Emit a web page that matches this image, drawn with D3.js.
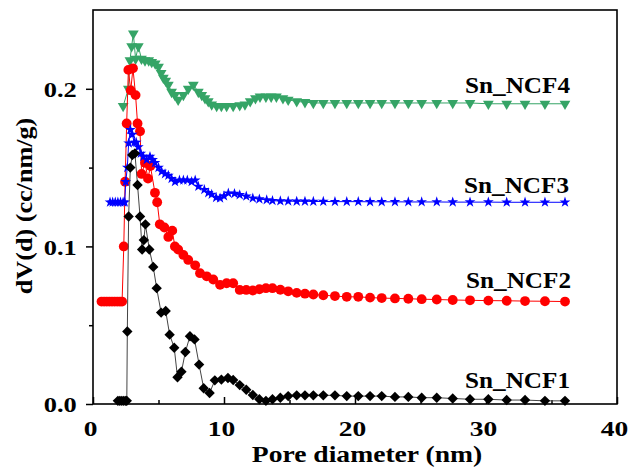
<!DOCTYPE html>
<html>
<head>
<meta charset="utf-8">
<script src="https://cdn.jsdelivr.net/npm/d3@7"></script>
<style>
	body { margin: 0; background: #fff; }
	text { font-family: "Liberation Serif", "Times New Roman", serif; font-weight: bold; fill: #000; }
</style>
</head>
<body>
<svg id="chart" width="633" height="473"></svg>
<script>

// pore diameters shared by the long tail of every curve (nm)
var tailD = [14.9, 15.55, 16.18, 16.82, 17.58, 18.47, 19.37, 20.25, 21.15, 22.04, 23.05,
	24.07, 25.09, 26.24, 27.46, 28.78, 30.18, 31.58, 32.98, 34.5, 36.03];

// [diameter, dV(d)] below 14.9 nm, then dV(d) on tailD
var ncf1Head = [[1.9,0.002],[2.05,0.002],[2.2,0.002],[2.35,0.002],[2.5,0.002],[2.58,0.002],
	[2.62,0.046],[2.72,0.119],[2.85,0.150],[3.0,0.158],[3.2,0.159],[3.4,0.139],[3.59,0.119],
	[3.75,0.098],[3.88,0.104],[4.0,0.114],[4.3,0.098],[4.6,0.087],[4.86,0.0735],[5.2,0.058],
	[5.55,0.059],[5.85,0.044],[6.2,0.0357],[6.45,0.017],[6.75,0.0205],[7.05,0.033],[7.4,0.043],
	[7.75,0.041],[8.1,0.025],[8.45,0.010],[8.9,0.007],[9.3,0.015],[9.8,0.0155],[10.3,0.0165],
	[10.7,0.0152],[11.2,0.012],[11.7,0.009],[12.2,0.0057],[12.7,0.003],[13.2,0.002],[13.7,0.003],
	[14.3,0.004]];
var ncf1Tail = [0.005, 0.0055, 0.0055, 0.0055, 0.0055, 0.0055, 0.005, 0.005, 0.005, 0.005, 0.0045,
	0.0045, 0.004, 0.004, 0.0035, 0.003, 0.003, 0.0025, 0.0025, 0.002, 0.002];

var ncf2Head = [[0.65,0.065],[0.85,0.065],[1.05,0.065],[1.25,0.065],[1.45,0.065],[1.65,0.065],
	[1.85,0.065],[2.05,0.065],[2.22,0.065],[2.35,0.100],[2.45,0.141],[2.57,0.178],[2.7,0.212],
	[2.88,0.199],[3.05,0.213],[3.25,0.196],[3.4,0.178],[3.59,0.173],[3.71,0.146],[3.97,0.153],
	[4.2,0.143],[4.38,0.151],[4.73,0.134],[4.9,0.128],[5.1,0.114],[5.45,0.112],[5.75,0.106],
	[6.05,0.110],[6.25,0.100],[6.5,0.098],[6.9,0.0946],[7.27,0.0914],[7.8,0.088],[8.17,0.083],
	[8.68,0.081],[9.18,0.079],[9.7,0.0756],[10.2,0.0766],[10.7,0.0766],[11.2,0.0724],[11.7,0.0724],
	[12.2,0.072],[12.7,0.0728],[13.2,0.0735],[13.7,0.0735],[14.3,0.0725]];
var ncf2Tail = [0.0715, 0.0705, 0.070, 0.0695, 0.069, 0.0685, 0.068, 0.068, 0.0675, 0.0672, 0.067,
	0.0668, 0.0665, 0.0663, 0.066, 0.0658, 0.0656, 0.0655, 0.0653, 0.0652, 0.065];

var ncf3Head = [[1.3,0.128],[1.5,0.128],[1.7,0.128],[1.9,0.128],[2.1,0.128],[2.3,0.128],[2.42,0.128],
	[2.5,0.141],[2.62,0.150],[2.72,0.1655],[2.85,0.174],[3.0,0.171],[3.15,0.166],[3.3,0.166],
	[3.46,0.163],[3.65,0.159],[3.84,0.157],[4.1,0.155],[4.35,0.157],[4.55,0.155],[4.73,0.153],
	[5.0,0.150],[5.24,0.1475],[5.5,0.146],[5.75,0.145],[6.0,0.143],[6.26,0.141],[6.6,0.142],
	[6.9,0.142],[7.2,0.142],[7.53,0.141],[7.8,0.142],[8.04,0.138],[8.5,0.136],[8.8,0.134],
	[9.06,0.133],[9.4,0.131],[9.7,0.1306],[10.0,0.132],[10.33,0.1338],[10.8,0.1335],[11.2,0.1327],
	[11.7,0.1318],[12.2,0.1306],[12.7,0.130],[13.26,0.1295],[13.7,0.129],[14.3,0.1288]];
var ncf3Tail = [0.1287, 0.1286, 0.1286, 0.1285, 0.1285, 0.1284, 0.1284, 0.1284, 0.1283, 0.1283, 0.1283,
	0.1282, 0.1282, 0.1282, 0.1281, 0.1281, 0.1281, 0.128, 0.128, 0.128, 0.128];

var ncf4Head = [[2.3,0.189],[2.7,0.200],[2.82,0.218],[2.95,0.227],[3.08,0.235],[3.25,0.219],
	[3.46,0.227],[3.7,0.219],[3.97,0.218],[4.25,0.218],[4.48,0.217],[4.75,0.216],[5.0,0.214],
	[5.2,0.210],[5.37,0.207],[5.55,0.205],[5.75,0.2025],[6.0,0.198],[6.25,0.196],[6.5,0.193],
	[6.9,0.196],[7.27,0.200],[7.66,0.2025],[8.04,0.198],[8.3,0.196],[8.55,0.194],[8.8,0.192],
	[9.06,0.190],[9.44,0.189],[9.8,0.189],[10.2,0.189],[10.7,0.189],[11.2,0.1895],[11.6,0.190],
	[12.0,0.192],[12.4,0.194],[12.75,0.195],[13.2,0.195],[13.6,0.195],[14.0,0.195],[14.5,0.194]];
var ncf4Tail = [0.193, 0.192, 0.1915, 0.191, 0.191, 0.191, 0.191, 0.191, 0.191, 0.191, 0.191,
	0.191, 0.191, 0.191, 0.191, 0.191, 0.1905, 0.1905, 0.1905, 0.1905, 0.1905];

var seriesNames = ["Sn_NCF1", "Sn_NCF2", "Sn_NCF3", "Sn_NCF4"];

var xMajor = [0, 10, 20, 30, 40];
var xMinor = [5, 15, 25, 35];
var yMajor = [0, 0.1, 0.2];
var yMinor = [0.05, 0.15];

var series = [
	{ name: seriesNames[3], head: ncf4Head, tail: ncf4Tail, color: "#35a466", line: "#35a466", symbol: d3.symbolTriangle, size: 50, rot: 180 },
	{ name: seriesNames[1], head: ncf2Head, tail: ncf2Tail, color: "#ff0000", line: "#ff0000", symbol: d3.symbolCircle, size: 76, rot: 0 },
	{ name: seriesNames[2], head: ncf3Head, tail: ncf3Tail, color: "#0000ff", line: "#0000ff", symbol: d3.symbolStar, size: 36, rot: 0 },
	{ name: seriesNames[0], head: ncf1Head, tail: ncf1Tail, color: "#000000", line: "#444444", symbol: d3.symbolSquare, size: 54, rot: 45 },
];

series.forEach( s => s.pts = s.head.concat( tailD.map( (d, i) => [d, s.tail[i]] ) ) );

var svg = d3.select("#chart");

var x = d3.scaleLinear().domain([0, 40]).range([93, 617]);
var y = d3.scaleLinear().domain([0, 0.25]).range([404, 10]);

// x axis: ticks point inward
var xax = svg.append("g")
	.attr("transform", `translate(0,${y(0)})`)
	.call(d3.axisBottom(x).tickValues(xMajor).tickSize(-7).tickPadding(16).tickFormat(d3.format("d")));
xax.select(".domain").remove();
xax.selectAll("line").attr("stroke-width", 1.5);
xax.selectAll("text")
	.attr("font-size", 22)
	.attr("transform", "translate(-3,0) scale(1.25,1)");

var xmin = svg.append("g")
	.attr("transform", `translate(0,${y(0)})`)
	.call(d3.axisBottom(x).tickValues(xMinor).tickSize(-4).tickFormat(""));
xmin.select(".domain").remove();
xmin.selectAll("line").attr("stroke-width", 1.5);

// y axis: ticks point outward
var yax = svg.append("g")
	.attr("transform", `translate(${x(0)},0)`)
	.call(d3.axisLeft(y).tickValues(yMajor).tickSize(7).tickPadding(6.5).tickFormat(d3.format(".1f")));
yax.select(".domain").remove();
yax.selectAll("line").attr("stroke-width", 1.5);
yax.selectAll("text")
	.attr("font-size", 22)
	.attr("dy", "0.36em")
	.attr("transform", "scale(1.2,1)");

var ymin = svg.append("g")
	.attr("transform", `translate(${x(0)},0)`)
	.call(d3.axisLeft(y).tickValues(yMinor).tickSize(4).tickFormat(""));
ymin.select(".domain").remove();
ymin.selectAll("line").attr("stroke-width", 1.5);

// frame
svg.append("rect")
	.attr("x", x(0))
	.attr("y", y(0.25))
	.attr("width", x(40) - x(0))
	.attr("height", y(0) - y(0.25))
	.attr("fill", "none")
	.attr("stroke", "#000")
	.attr("stroke-width", 1.6);

// curves
var line = d3.line().x(d => x(d[0])).y(d => y(d[1]));

series.forEach( s => {

	svg.append("path")
		.datum(s.pts)
		.attr("d", line)
		.attr("fill", "none")
		.attr("stroke", s.line)
		.attr("stroke-width", 1);

	svg.append("g").selectAll("path")
		.data(s.pts)
		.join("path")
			.attr("d", d3.symbol().type(s.symbol).size(s.size))
			.attr("transform", d => `translate(${x(d[0])},${y(d[1])}) rotate(${s.rot})`)
			.attr("fill", s.color);

});

// curve labels
var labelPos = [
	{ name: seriesNames[3], px: 570, py: 93 },
	{ name: seriesNames[2], px: 569, py: 193 },
	{ name: seriesNames[1], px: 571, py: 288 },
	{ name: seriesNames[0], px: 570, py: 388 },
];

svg.append("g").selectAll("text")
	.data(labelPos)
	.join("text")
		.attr("transform", d => `translate(${d.px},${d.py}) scale(1.05,1)`)
		.attr("text-anchor", "end")
		.attr("font-size", 24)
		.text(d => d.name);

// axis titles
svg.append("text")
	.attr("transform", "translate(367,462) scale(1.15,1)")
	.attr("text-anchor", "middle")
	.attr("font-size", 24)
	.text("Pore diameter (nm)");

svg.append("text")
	.attr("transform", "translate(32,206) rotate(-90) scale(1.09,1)")
	.attr("text-anchor", "middle")
	.attr("font-size", 24)
	.text("dV(d) (cc/nm/g)");

</script>
</body>
</html>
